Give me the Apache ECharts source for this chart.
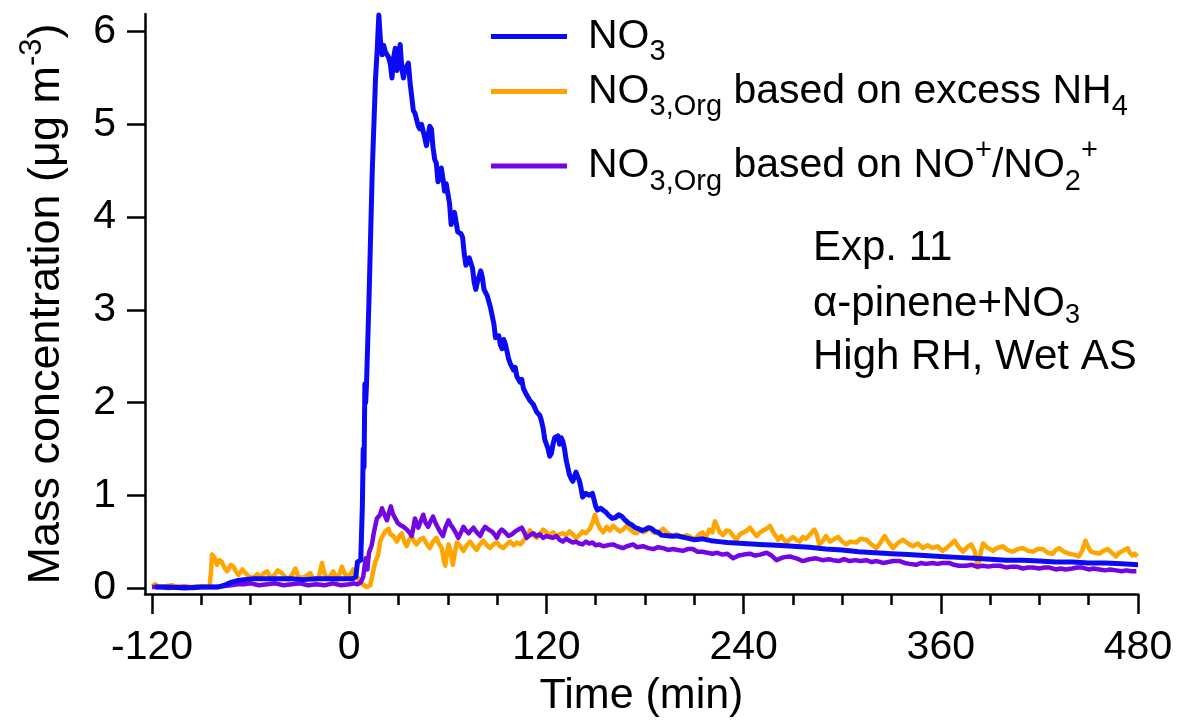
<!DOCTYPE html>
<html><head><meta charset="utf-8">
<script src="https://cdn.jsdelivr.net/npm/echarts@6/dist/echarts.min.js"></script>
<style>html,body{margin:0;padding:0;background:#fff}#c{width:1178px;height:723px}</style>
</head><body><div id="c"></div>
<script>
const xTicksMajor = [-120, 0, 120, 240, 360, 480];
const xTicksMinor = [-90, -60, -30, 30, 60, 90, 150, 180, 210, 270, 300, 330, 390, 420, 450];
const yTicks = [0, 1, 2, 3, 4, 5, 6];

const no3 = [[-118,0.01],[-110,0.01],[-100,0.0],[-90,0.01],[-80,0.01],[-76,0.03],[-72,0.06],[-68,0.08],[-64,0.09],[-58,0.1],[-50,0.1],[-42,0.1],[-35,0.1],[-28,0.09],[-20,0.1],[-12,0.1],[-5,0.1],[2,0.1],[4,0.12],[5,0.28],[6,0.26],[7,0.3],[8,0.9],[8.5,1.5],[9,1.3],[9.5,2.2],[10,2.0],[10.5,2.2],[11,2.5],[12,3.1],[13,3.8],[14,4.5],[15,5.0],[16,5.5],[17,5.8],[18,6.18],[19,5.9],[20,5.75],[21,5.85],[22,5.78],[23,5.75],[24,5.72],[25,5.65],[26,5.5],[27,5.72],[28,5.82],[29,5.58],[30,5.7],[31,5.86],[32,5.6],[33,5.5],[34,5.6],[35,5.6],[36,5.66],[37,5.45],[38,5.3],[39,5.15],[40,5.12],[41,5.1],[42,4.98],[43,4.95],[44,5.0],[45,4.98],[46,4.85],[47,4.77],[48,4.88],[49,4.98],[50,4.95],[51,4.75],[52,4.62],[53,4.58],[54,4.38],[55,4.45],[56,4.53],[57,4.42],[58,4.28],[59,4.36],[60,4.34],[61,4.15],[62,3.92],[63,4.02],[64,4.05],[65,3.95],[66,3.84],[67,3.85],[68,3.82],[69,3.78],[70,3.6],[71,3.48],[72,3.5],[73,3.56],[74,3.55],[75,3.45],[76,3.3],[77,3.22],[78,3.3],[80,3.42],[81,3.35],[82,3.22],[84,3.15],[86,3.02],[88,2.85],[89,2.7],[90,2.68],[91,2.72],[92,2.62],[93,2.58],[94,2.68],[95,2.63],[96,2.55],[97,2.47],[98,2.42],[100,2.35],[101,2.38],[102,2.28],[104,2.22],[105,2.25],[106,2.15],[108,2.08],[109,2.1],[110,2.02],[112,1.98],[114,1.9],[116,1.86],[117,1.8],[118,1.72],[119,1.6],[120,1.55],[121,1.5],[122,1.42],[123,1.45],[124,1.55],[125,1.62],[126,1.6],[127,1.64],[128,1.55],[129,1.62],[130,1.58],[131,1.5],[132,1.38],[133,1.3],[134,1.22],[135,1.18],[136,1.15],[137,1.2],[138,1.25],[139,1.2],[140,1.16],[141,1.08],[142,0.98],[143,0.97],[144,1.02],[146,1.0],[148,1.02],[150,0.88],[151,0.84],[153,0.86],[154,0.88],[156,0.82],[158,0.78],[160,0.75],[162,0.76],[164,0.79],[166,0.77],[168,0.73],[170,0.7],[172,0.68],[174,0.65],[176,0.64],[178,0.62],[180,0.63],[182,0.65],[184,0.64],[186,0.61],[188,0.6],[190,0.57],[195,0.56],[200,0.56],[205,0.54],[210,0.52],[215,0.53],[220,0.51],[225,0.5],[230,0.49],[240,0.48],[250,0.47],[260,0.46],[270,0.45],[280,0.44],[290,0.42],[300,0.41],[310,0.39],[320,0.38],[330,0.37],[340,0.36],[350,0.35],[360,0.34],[370,0.33],[380,0.32],[390,0.31],[400,0.3],[410,0.3],[420,0.29],[430,0.28],[440,0.28],[450,0.27],[460,0.27],[470,0.26],[480,0.25]];

const no3OrgNH4 = [[-120,0.02],[-118,0.04],[-116,0.01],[-112,0.02],[-108,0.03],[-104,0.01],[-100,0.02],[-96,0.01],[-92,0.02],[-88,0.01],[-85,0.02],[-84,0.2],[-83.5,0.36],[-82,0.33],[-80.5,0.25],[-79,0.3],[-77.5,0.28],[-76,0.22],[-74.3,0.18],[-72,0.25],[-70.4,0.23],[-69,0.18],[-67.4,0.14],[-65,0.2],[-63,0.16],[-61,0.12],[-58.3,0.11],[-56,0.15],[-54,0.12],[-52,0.16],[-50,0.18],[-48,0.12],[-46,0.13],[-43.5,0.19],[-41,0.16],[-39,0.12],[-37,0.09],[-35,0.14],[-32.8,0.21],[-31,0.12],[-28.8,0.11],[-26,0.13],[-23.7,0.16],[-22,0.1],[-20.7,0.09],[-18.5,0.12],[-16.6,0.27],[-15,0.15],[-13.6,0.11],[-11.5,0.13],[-9.7,0.18],[-7.5,0.09],[-6,0.15],[-4.5,0.23],[-3,0.16],[-1.4,0.13],[0.5,0.14],[2.5,0.2],[4,0.14],[5.5,0.1],[6.7,0.07],[8,0.04],[10.7,0.01],[12.8,0.03],[14,0.05],[15.8,0.28],[17.5,0.35],[18.8,0.5],[20,0.55],[21.9,0.61],[23.9,0.64],[25,0.58],[26.9,0.56],[29,0.5],[30.5,0.56],[32,0.59],[33.5,0.5],[35,0.45],[36.5,0.52],[38,0.56],[39.5,0.5],[41,0.47],[43,0.52],[45,0.54],[47,0.48],[49,0.43],[51,0.5],[53,0.54],[54.5,0.48],[56.3,0.43],[57.5,0.3],[58.4,0.24],[59.5,0.38],[60.4,0.47],[61.5,0.4],[63,0.25],[64.5,0.4],[65.5,0.49],[67.5,0.45],[69.5,0.4],[71.5,0.46],[73.6,0.5],[75.5,0.45],[77.6,0.41],[79.5,0.47],[81.7,0.51],[83.7,0.46],[85.7,0.43],[87.7,0.47],[89.8,0.49],[91.8,0.45],[93.8,0.43],[95.8,0.47],[97.9,0.5],[100,0.46],[102,0.49],[104,0.47],[106,0.51],[108,0.56],[110,0.62],[112,0.57],[114,0.54],[116,0.58],[118,0.63],[120,0.6],[122,0.57],[124,0.6],[126,0.56],[128,0.58],[130,0.59],[132,0.57],[134,0.61],[136,0.58],[138,0.54],[140,0.57],[142,0.61],[144,0.59],[146.5,0.64],[148,0.7],[149.5,0.79],[151,0.7],[152.6,0.64],[154.6,0.6],[156.6,0.66],[158.6,0.62],[160.6,0.67],[162.6,0.64],[164.7,0.61],[166.7,0.63],[168.8,0.67],[171,0.63],[172.9,0.6],[174.9,0.59],[177,0.63],[179,0.6],[181,0.62],[183,0.65],[185,0.6],[187,0.59],[189,0.61],[191,0.64],[193,0.6],[195,0.58],[197,0.55],[199,0.58],[201,0.56],[203,0.55],[205,0.57],[207,0.56],[209,0.53],[211,0.54],[213,0.58],[215,0.6],[217,0.54],[219,0.63],[221,0.6],[222.5,0.72],[223.5,0.68],[225.5,0.6],[227.5,0.57],[229.5,0.62],[231.6,0.61],[233.6,0.56],[235.7,0.52],[237.7,0.58],[240,0.6],[242,0.62],[243.8,0.65],[246,0.6],[247.9,0.56],[250,0.6],[252,0.62],[254,0.64],[256,0.67],[258,0.6],[260,0.55],[261,0.52],[263,0.56],[266,0.49],[268,0.52],[270,0.55],[272,0.52],[274,0.5],[276,0.55],[278,0.53],[280,0.57],[283,0.63],[284.5,0.58],[286,0.47],[288,0.5],[290,0.56],[292.5,0.5],[295.4,0.53],[297.5,0.55],[300,0.5],[302.5,0.47],[305,0.5],[308.6,0.49],[311,0.53],[314.7,0.52],[317,0.48],[320.8,0.43],[323,0.48],[325.8,0.56],[328,0.5],[330.9,0.43],[333,0.47],[335,0.5],[337,0.52],[340,0.48],[343,0.45],[346,0.48],[349,0.43],[352,0.46],[355,0.43],[358,0.45],[361,0.4],[364,0.44],[366,0.47],[368.4,0.51],[370.5,0.45],[373.5,0.39],[376,0.44],[378.5,0.47],[380.5,0.4],[382.6,0.22],[384.5,0.4],[385.7,0.48],[388,0.44],[391.7,0.4],[394,0.43],[397.8,0.45],[400.5,0.41],[403.8,0.39],[407,0.42],[410,0.43],[413,0.4],[416,0.39],[419,0.42],[422,0.42],[425,0.38],[428,0.37],[430,0.41],[432,0.43],[435,0.39],[438,0.37],[441,0.36],[444,0.34],[446,0.4],[448,0.51],[450,0.43],[451.5,0.39],[454,0.38],[456.5,0.37],[459,0.4],[461.6,0.42],[464,0.38],[466.7,0.34],[468.5,0.38],[470.7,0.4],[473.6,0.43],[475,0.38],[476.6,0.35],[478,0.37],[479.6,0.34]];

const no3OrgRatio = [[-120,0.01],[-115,0.01],[-110,0.0],[-105,0.01],[-100,0.01],[-95,0.0],[-90,0.01],[-85,0.01],[-80,0.01],[-76,0.02],[-72,0.03],[-68,0.04],[-64,0.04],[-60,0.05],[-55,0.03],[-50,0.04],[-45,0.05],[-40,0.03],[-35,0.04],[-30,0.05],[-25,0.03],[-20,0.04],[-15,0.03],[-10,0.05],[-5,0.03],[0,0.04],[3,0.05],[5,0.04],[7,0.06],[8.5,0.12],[10,0.32],[11,0.2],[12,0.38],[13.8,0.47],[15,0.6],[16.8,0.75],[18.8,0.79],[19.9,0.86],[21,0.84],[22.9,0.73],[24,0.8],[25.3,0.88],[26.5,0.8],[28,0.75],[29.5,0.7],[31,0.68],[33,0.66],[35,0.63],[36.5,0.6],[38,0.56],[39,0.65],[40,0.75],[41,0.7],[42,0.65],[43.5,0.72],[45,0.79],[46.5,0.7],[48,0.66],[49.5,0.72],[51,0.77],[52.5,0.7],[54,0.65],[55.5,0.6],[57,0.56],[58.5,0.65],[60.4,0.73],[61.7,0.68],[63,0.65],[64.7,0.6],[66.4,0.54],[68,0.6],[69.5,0.66],[71,0.62],[72.6,0.59],[74,0.62],[75.6,0.65],[77.6,0.6],[79.7,0.56],[81.2,0.62],[82.7,0.66],[84.7,0.63],[86.7,0.61],[88.3,0.58],[89.8,0.54],[91.3,0.6],[92.8,0.63],[94.8,0.6],[96.9,0.56],[99,0.58],[101,0.61],[103,0.63],[105,0.65],[106.5,0.6],[108,0.54],[110,0.57],[112,0.59],[114,0.56],[116,0.58],[118,0.54],[120,0.56],[122,0.55],[124,0.54],[126,0.56],[128,0.52],[130,0.5],[132,0.53],[134,0.51],[136,0.49],[138,0.5],[140,0.48],[142,0.47],[144,0.5],[146,0.48],[148,0.49],[150,0.46],[152,0.47],[154.6,0.45],[157,0.46],[160.6,0.47],[163,0.45],[166.6,0.43],[169,0.45],[172.7,0.47],[175,0.44],[178.8,0.45],[182,0.43],[185,0.42],[188,0.44],[191,0.43],[194,0.41],[197,0.42],[200,0.41],[203,0.4],[206,0.42],[209,0.42],[212,0.39],[215,0.39],[218,0.38],[221,0.37],[224,0.38],[227,0.36],[230,0.37],[233.6,0.32],[237,0.35],[240,0.36],[243.8,0.37],[247,0.35],[250,0.36],[254,0.38],[257,0.35],[260,0.3],[264,0.33],[268,0.34],[272,0.32],[276,0.29],[280,0.31],[284,0.32],[288,0.3],[292,0.31],[294.4,0.3],[298,0.29],[301,0.31],[304.6,0.29],[308,0.3],[311,0.29],[314.7,0.3],[318,0.28],[321,0.29],[324.9,0.27],[328,0.28],[331,0.29],[335,0.29],[338,0.27],[341,0.26],[345,0.25],[348,0.27],[351,0.26],[355,0.27],[358,0.26],[361,0.27],[365,0.27],[368,0.25],[371,0.24],[375.5,0.24],[379,0.25],[382,0.23],[385.7,0.24],[389,0.23],[392,0.24],[396,0.24],[400,0.22],[403,0.23],[406,0.23],[410,0.21],[413,0.22],[416,0.22],[420,0.21],[423,0.22],[426,0.22],[430,0.2],[433,0.21],[436,0.2],[440,0.21],[443,0.22],[446,0.22],[450,0.2],[453,0.21],[456.5,0.2],[460,0.19],[463,0.2],[466.7,0.19],[470,0.18],[473,0.19],[476,0.18],[479,0.18]];

const seriesNames = ['NO3', 'NO3,Org excess NH4', 'NO3,Org NO+/NO2+'];
const legendLabels = [
  '{m|NO}{s|3}',
  '{m|NO}{s|3,Org}{m| based on excess NH}{s|4}',
  '{m|NO}{s|3,Org}{m| based on NO}{p|+}{m|/NO}{s|2}{p|+}'
];
const colors = ['#0a0af5', '#ffa500', '#7306e3'];
const FONT = 'Liberation Sans, Arial, sans-serif';

const chart = echarts.init(document.getElementById('c'), null, {renderer: 'canvas'});
const richLegend = {
  m: {fontSize: 41, lineHeight: 60, fontFamily: FONT, color: '#000'},
  s: {fontSize: 29, lineHeight: 36, verticalAlign: 'bottom', fontFamily: FONT, color: '#000'},
  p: {fontSize: 29, lineHeight: 14, verticalAlign: 'top', fontFamily: FONT, color: '#000'}
};
const legendTops = [16, 71, 136];
const legends = seriesNames.map((n, i) => ({
  data: [n], left: 491, top: legendTops[i], padding: 0, orient: 'vertical',
  selectedMode: false, icon: 'rect', itemWidth: 76, itemHeight: 5,
  formatter: () => legendLabels[i],
  textStyle: {padding: [0, 0, 0, 16], fontSize: 41, fontFamily: FONT, color: '#000', rich: richLegend}
}));

const axisLineStyle = {color: '#000', width: 2.5};
const option = {
  animation: false,
  backgroundColor: '#fff',
  grid: {left: 145, right: 40, top: 14, bottom: 127, containLabel: false},
  legend: legends,
  xAxis: [{
    type: 'value', min: -124.3, max: 480, position: 'bottom',
    axisLine: {show: true, onZero: false, lineStyle: axisLineStyle},
    axisTick: {show: true, length: 20, lineStyle: {color: '#000', width: 2.5}, customValues: xTicksMajor},
    axisLabel: {show: true, customValues: xTicksMajor, fontSize: 41, fontFamily: FONT, color: '#000', margin: 33},
    splitLine: {show: false},
    name: 'Time (min)', nameLocation: 'middle', nameGap: 81,
    nameTextStyle: {fontSize: 43, fontFamily: FONT, color: '#000'}
  }, {
    type: 'value', min: -124.3, max: 480, position: 'bottom',
    axisLine: {show: false, onZero: false},
    axisTick: {show: true, length: 11, lineStyle: {color: '#000', width: 2.5}, customValues: xTicksMinor},
    axisLabel: {show: false},
    splitLine: {show: false}
  }],
  yAxis: {
    type: 'value', min: -0.065, max: 6.19,
    axisLine: {show: true, onZero: false, lineStyle: axisLineStyle},
    axisTick: {show: true, length: 18, lineStyle: {color: '#000', width: 2.5}, customValues: yTicks},
    axisLabel: {show: true, customValues: yTicks, fontSize: 41, fontFamily: FONT, color: '#000', margin: 29},
    splitLine: {show: false},
    name: '{a|Mass concentration (μg m}{b|-3}{a|)}',
    nameLocation: 'middle', nameGap: 68,
    nameTextStyle: {
      fontFamily: FONT, color: '#000',
      rich: {
        a: {fontSize: 45, lineHeight: 60, fontFamily: FONT, color: '#000'},
        b: {fontSize: 31, lineHeight: 12, verticalAlign: 'top', fontFamily: FONT, color: '#000'}
      }
    }
  },
  graphic: [
    {type: 'text', left: 813, top: 227, style: {text: '{m|Exp. 11}', rich: {m: {fontSize: 42, lineHeight: 51, fontFamily: FONT, fill: '#000'}}}},
    {type: 'text', left: 813, top: 283, style: {text: '{m|α-pinene+NO}{s|3}', rich: {
      m: {fontSize: 42, lineHeight: 51, fontFamily: FONT, fill: '#000'},
      s: {fontSize: 27, lineHeight: 30, verticalAlign: 'bottom', fontFamily: FONT, fill: '#000'}}}},
    {type: 'text', left: 813, top: 336, style: {text: '{m|High RH, Wet AS}', rich: {m: {fontSize: 42, lineHeight: 51, fontFamily: FONT, fill: '#000'}}}}
  ],
  series: [
    {name: seriesNames[0], type: 'line', data: no3, showSymbol: false, z: 4,
     lineStyle: {color: colors[0], width: 5, join: 'round'}, itemStyle: {color: colors[0]}},
    {name: seriesNames[1], type: 'line', data: no3OrgNH4, showSymbol: false, z: 2,
     lineStyle: {color: colors[1], width: 4.5, join: 'round'}, itemStyle: {color: colors[1]}},
    {name: seriesNames[2], type: 'line', data: no3OrgRatio, showSymbol: false, z: 3,
     lineStyle: {color: colors[2], width: 4.5, join: 'round'}, itemStyle: {color: colors[2]}}
  ]
};
chart.setOption(option);
</script></body></html>
